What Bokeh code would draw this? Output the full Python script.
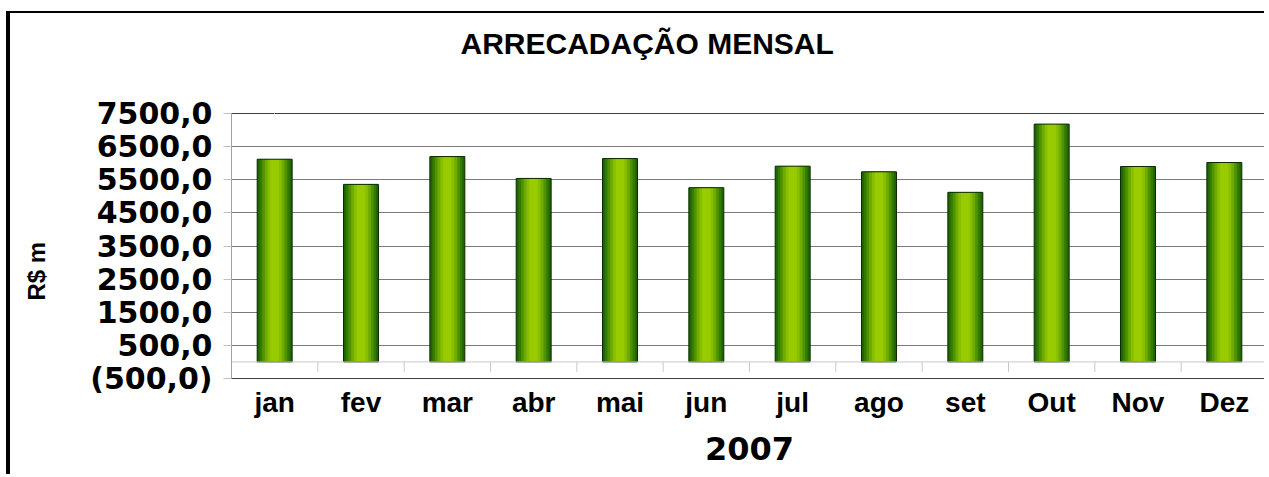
import math
from bokeh.plotting import figure
from bokeh.models import FixedTicker, Range1d, Span, ColumnDataSource, LinearAxis, Title
from bokeh.embed import file_html
from bokeh.resources import INLINE

# ---- data ----
months = ["jan", "fev", "mar", "abr", "mai", "jun", "jul", "ago", "set", "Out", "Nov", "Dez"]
values = [6120, 5360, 6200, 5540, 6140, 5260, 5910, 5740, 5120, 7180, 5900, 6020]
y_ticks = [-500, 500, 1500, 2500, 3500, 4500, 5500, 6500, 7500]
y_tick_labels = ["(500,0)", "500,0", "1500,0", "2500,0", "3500,0", "4500,0", "5500,0", "6500,0", "7500,0"]
title_text = "ARRECADAÇÃO MENSAL"
x_title = "2007"
y_title = "R$ m"

idx = list(range(len(months)))
src = ColumnDataSource(dict(x=idx, top=values))

W, H = 1258, 463
p = figure(width=W, height=H, output_backend="svg", toolbar_location=None,
           x_range=Range1d(-0.5, len(months) - 0.5), y_range=Range1d(y_ticks[0], y_ticks[-1]),
           min_border_left=221, min_border_right=1, min_border_top=100, min_border_bottom=98)
p.styles = {"border-left": "4px solid #000000", "border-top": "2px solid #000000",
            "margin-left": "6px", "margin-top": "11px"}
p.background_fill_color = "white"
p.border_fill_color = "white"
p.outline_line_color = "#404040"
p.outline_line_width = 1

# grid
p.xgrid.grid_line_color = None
p.ygrid.grid_line_color = "#7a7a7a"
p.ygrid.grid_line_width = 1

# y axis
p.yaxis.ticker = FixedTicker(ticks=y_ticks)
p.yaxis.major_label_overrides = {t: l for t, l in zip(y_ticks, y_tick_labels)}
p.yaxis.axis_line_color = "#a0a0a0"
p.yaxis.major_tick_line_color = "#c0c0c0"
p.yaxis.major_tick_out = 8
p.yaxis.major_tick_in = 0
p.yaxis.minor_tick_line_color = None
p.yaxis.major_label_standoff = 11
p.yaxis.major_label_text_font = "DejaVu Sans"
p.yaxis.major_label_text_font_style = "bold"
p.yaxis.major_label_text_font_size = "30px"
p.yaxis.major_label_text_color = "black"

# x axis
p.xaxis.ticker = FixedTicker(ticks=idx)
p.xaxis.major_label_overrides = {i: m for i, m in zip(idx, months)}
p.xaxis.axis_line_color = "#404040"
p.xaxis.major_tick_line_color = None
p.xaxis.minor_tick_line_color = None
p.xaxis.major_label_standoff = 2
p.xaxis.major_label_text_font = "Liberation Sans"
p.xaxis.major_label_text_font_style = "bold"
p.xaxis.major_label_text_font_size = "28px"
p.xaxis.major_label_text_color = "black"
p.xaxis.axis_label = x_title
p.xaxis.axis_label_standoff = 16
p.xaxis.axis_label_text_font = "DejaVu Sans"
p.xaxis.axis_label_text_font_style = "bold"
p.xaxis.axis_label_text_font_size = "32px"
p.xaxis.axis_label_text_color = "black"


def spacer(size, at):
    # invisible axis used only to reserve space between the frame and a title
    ax = LinearAxis(ticker=FixedTicker(ticks=[at]), major_label_overrides={at: ""},
                    axis_line_color=None, major_tick_line_color="white",
                    minor_tick_line_color=None, major_tick_out=size, major_tick_in=0,
                    major_label_standoff=0, major_label_text_font_size="1px")
    return ax


p.add_layout(spacer(52, 0), "above")
p.add_layout(Title(text=title_text, align="left", offset=229, standoff=4,
                   text_font="Liberation Sans", text_font_style="bold", text_font_size="30px",
                   text_color="black"), "above")
p.add_layout(spacer(33, y_ticks[0]), "left")
p.add_layout(Title(text=y_title, align="left", offset=78, standoff=10,
                   text_font="Liberation Sans", text_font_style="bold", text_font_size="24px",
                   text_color="black"), "left")

# category axis line at zero with boundary ticks
p.add_layout(Span(location=0, dimension="width", line_color="#c8c8c8", line_width=1))
bounds = [i + 0.5 for i in idx[:-1]]
p.segment(x0=bounds, x1=bounds, y0=[0] * len(bounds), y1=[-300] * len(bounds),
          line_color="#c8c8c8", line_width=1)

# bars with simulated cylinder gradient
bar_w = 0.405
layers = [(1.00, "#1f6600"), (0.86, "#337a00"), (0.72, "#4f9300"),
          (0.56, "#6fab00"), (0.40, "#88bf00"), (0.24, "#99cc00")]
for frac, col in layers:
    p.vbar(x="x", top="top", bottom=0, width=bar_w * frac, source=src,
           fill_color=col, line_color=None)
p.vbar(x="x", top="top", bottom=0, width=bar_w, source=src,
       fill_color=None, line_color="#0a2a00", line_width=1)

open("out.html", "w").write(file_html(p, INLINE))
